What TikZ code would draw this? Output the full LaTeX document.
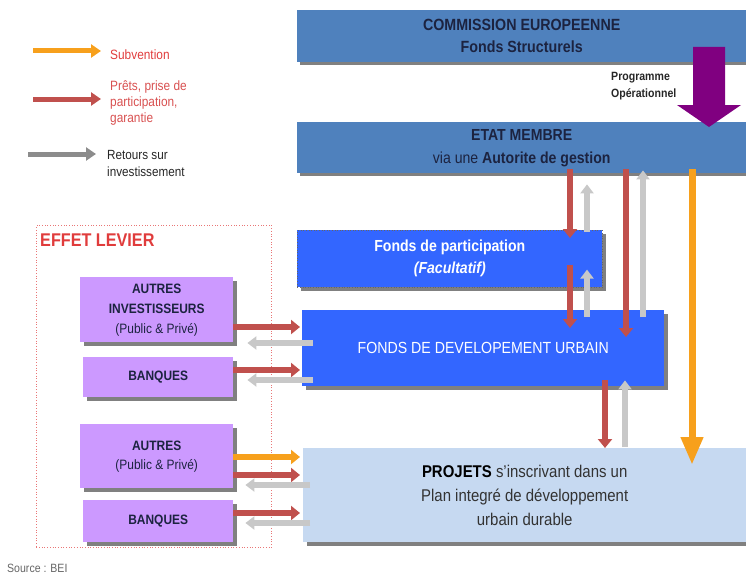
\documentclass[tikz,border=0pt]{standalone}
\usepackage{fontspec}
\setmainfont[FakeStretch=0.88]{Liberation Sans}
\usetikzlibrary{arrows.meta,shadows}

\definecolor{ceblue}{HTML}{4F81BD}
\definecolor{fdblue}{HTML}{3366FF}
\definecolor{pjblue}{HTML}{C6D9F1}
\definecolor{lilac}{HTML}{CC99FF}
\definecolor{navy}{HTML}{1C2340}
\definecolor{loanred}{HTML}{C0504D}
\definecolor{grantorange}{HTML}{F7A01C}
\definecolor{returngray}{HTML}{C8C8C8}
\definecolor{legendgray}{HTML}{8C8C8C}
\definecolor{progpurple}{HTML}{800080}
\definecolor{levred}{HTML}{E03C3C}
\definecolor{legred}{HTML}{D85050}

\newcommand{\fsz}[2]{\fontsize{#1}{#2}\selectfont}

\begin{document}
\begin{tikzpicture}[x=1pt,y=-1pt,
  box/.style={rectangle, inner sep=0pt, anchor=north west, align=center},
  shade3/.style={drop shadow={shadow xshift=#1, shadow yshift=-#1, fill=black!50, opacity=1}},
  shade3/.default=3pt,
  cebox/.style={box, fill=ceblue, text=navy, shade3},
  fdbox/.style={box, fill=fdblue, text=white, shade3=4pt},
  lilacbox/.style={box, fill=lilac, text=navy, shade3=4pt},
  pjbox/.style={box, fill=pjblue, text=black!80, shade3=4pt},
  loan/.style={draw=loanred, line width=6pt, -{Triangle[width=14pt,length=9pt]}},
  back/.style={draw=returngray, line width=6pt, -{Triangle[width=13pt,length=9pt]}},
  grant/.style={draw=grantorange, line width=6pt, -{Triangle[width=14pt,length=9pt]}},
  legtext/.style={anchor=west, align=left, inner sep=0pt}
]
\useasboundingbox (0,0) rectangle (746,578);

% --- legend ---
\coordinate (lo1) at (33,51);  \coordinate (lo2) at (101,51);
\coordinate (lr1) at (33,99);  \coordinate (lr2) at (101,99);
\coordinate (lg1) at (28,154); \coordinate (lg2) at (96,154);
\draw[draw=grantorange, line width=5pt, -{Triangle[width=13pt,length=10pt]}] (lo1) -- (lo2);
\draw[draw=loanred, line width=5pt, -{Triangle[width=13pt,length=10pt]}] (lr1) -- (lr2);
\draw[draw=legendgray, line width=5pt, -{Triangle[width=13pt,length=10pt]}] (lg1) -- (lg2);
\node[legtext, text=levred, font=\fsz{13.5}{16}] (legsub) at (110,55) {Subvention};
\node[legtext, text=legred, font=\fsz{13.5}{16}] (legpret) at (110,103) {Prêts, prise de\\participation,\\garantie};
\node[legtext, text=black!85, font=\fsz{13.3}{17}] (legret) at (107,163) {Retours sur\\investissement};

% --- top boxes ---
\node[cebox, minimum width=449pt, minimum height=52pt, font=\bfseries\fsz{16.2}{22}] (ce) at (297,10)
  {COMMISSION EUROPEENNE\\Fonds Structurels};
\node[cebox, minimum width=449pt, minimum height=51pt, font=\fsz{16}{23}] (etat) at (297,122)
  {\textbf{ETAT MEMBRE}\\via une \textbf{Autorite de gestion}};

% programme arrow
\fill[progpurple] (693,47) -- (725,47) -- (725,105) -- (741,105) -- (709,127)
  -- (677,105) -- (693,105) -- cycle;
\node[legtext, font=\bfseries\fsz{12}{17}, text=black!85] (prog) at (611,86)
  {Programme\\Opérationnel};

% --- funds ---
\node[fdbox, minimum width=305pt, minimum height=57pt, draw=black!60, dotted, line width=0.6pt,
  font=\bfseries\fsz{16}{22}] (fp) at (297,230)
  {Fonds de participation\\\textit{(Facultatif)}};
\node[fdbox, minimum width=362pt, minimum height=76pt, font=\fsz{16.1}{17}] (fdu) at (302,310)
  {FONDS DE DEVELOPEMENT URBAIN};
\node[pjbox, minimum width=443pt, minimum height=94pt, font=\fsz{17}{24}] (pj) at (303,448)
  {\textbf{\textcolor{black}{PROJETS}} s'inscrivant dans un\\Plan integré de développement\\urbain durable};

% --- leverage group ---
\node[box, draw=levred!70, dotted, line width=0.7pt, minimum width=235pt, minimum height=322pt] (lev) at (36,225) {};
\node[legtext, text=levred, font=\bfseries\fsz{18.4}{20}] (levtitle) at (40,240) {EFFET LEVIER};

\node[lilacbox, minimum width=153pt, minimum height=65pt, font=\fsz{13.6}{20}] (ai) at (80,277)
  {\textbf{AUTRES}\\\textbf{INVESTISSEURS}\\(Public \& Privé)};
\node[lilacbox, minimum width=150pt, minimum height=40pt, font=\bfseries\fsz{13.6}{15}] (b1) at (83,357)
  {BANQUES};
\node[lilacbox, minimum width=153pt, minimum height=64pt, font=\fsz{13.6}{19}] (au) at (80,424)
  {\textbf{AUTRES}\\(Public \& Privé)};
\node[lilacbox, minimum width=150pt, minimum height=42pt, font=\bfseries\fsz{13.6}{15}] (b2) at (83,500)
  {BANQUES};

% --- flows between the state and the funds ---
\draw[loan] ([yshift=4pt]etat.south -| 570,0) -- ([yshift=-8pt]fp.north -| 570,0);
\draw[back] ([yshift=-2pt]fp.north -| 587,0) -- ([yshift=-11pt]etat.south -| 587,0);
\draw[loan] ([yshift=23pt]fp.south -| 570,0) -- ([yshift=-18pt]fdu.north -| 570,0);
\draw[back] ([yshift=-7pt]fdu.north -| 587,0) -- ([yshift=18pt]fp.south -| 587,0);
\draw[loan] ([yshift=4pt]etat.south -| 626,0) -- ([yshift=-27pt]fdu.north -| 626,0);
\draw[back] ([yshift=-7pt]fdu.north -| 643,0) -- ([yshift=3pt]etat.south -| 643,0);
\draw[draw=grantorange, line width=7pt, -{Triangle[width=21pt,length=28pt]}]
  ([yshift=4pt]etat.south -| 692,0) -- ([yshift=-17pt]pj.north -| 692,0);
\draw[loan] ([yshift=6pt]fdu.south -| 605,0) -- (pj.north -| 605,0);
\draw[back] ([yshift=1pt]pj.north -| 625,0) -- ([yshift=6pt]fdu.south -| 625,0);

% --- flows with the other investors ---
\draw[loan] (ai.east |- 0,327) -- ([xshift=-2pt]fdu.west |- 0,327);
\draw[back] ([xshift=11pt]fdu.west |- 0,343) -- ([xshift=14pt]ai.east |- 0,343);
\draw[loan] (b1.east |- 0,370) -- ([xshift=-2pt]fdu.west |- 0,370);
\draw[back] ([xshift=11pt]fdu.west |- 0,380) -- ([xshift=14pt]b1.east |- 0,380);
\draw[grant] (au.east |- 0,457) -- ([xshift=-3pt]pj.west |- 0,457);
\draw[loan] (au.east |- 0,475) -- ([xshift=-3pt]pj.west |- 0,475);
\draw[back] ([xshift=7pt]pj.west |- 0,485) -- ([xshift=12pt]au.east |- 0,485);
\draw[loan] (b2.east |- 0,513) -- ([xshift=-3pt]pj.west |- 0,513);
\draw[back] ([xshift=7pt]pj.west |- 0,523) -- ([xshift=12pt]b2.east |- 0,523);

% --- source ---
\node[legtext, text=black!60, font=\fsz{12}{12}] (src) at (7,568) {Source : BEI};
\end{tikzpicture}
\end{document}
